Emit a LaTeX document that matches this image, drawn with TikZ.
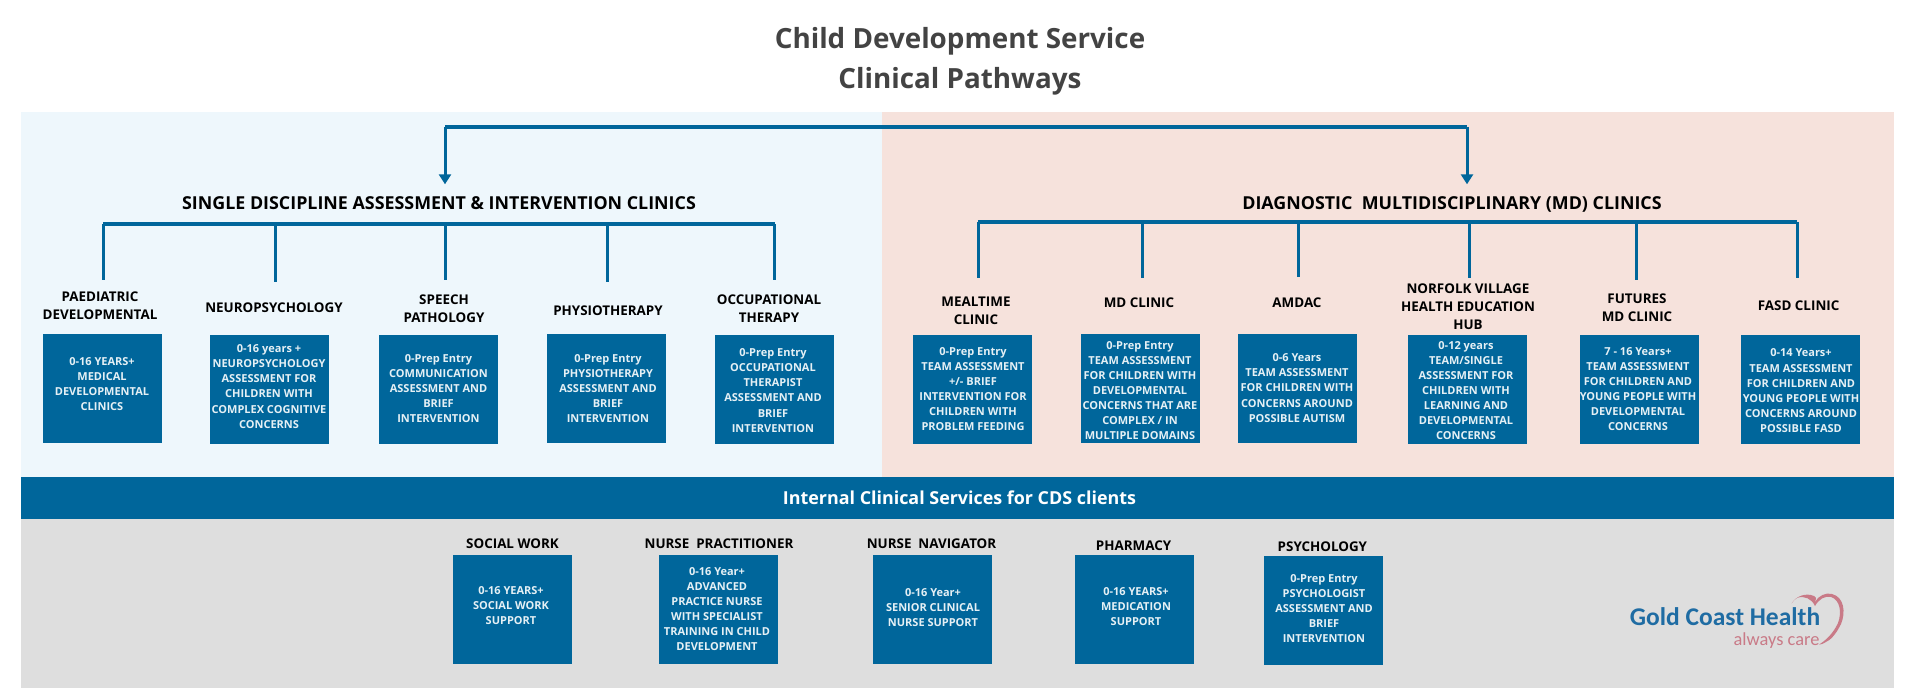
\documentclass[tikz,border=0pt]{standalone}
\usepackage{fontspec}
\setmainfont{Open Sans}
\newfontfamily\logofont{Carlito}
\usetikzlibrary{arrows.meta}
\definecolor{csblue}{HTML}{00669B}
\definecolor{pale}{HTML}{EEF7FC}
\definecolor{pinkp}{HTML}{F6E2DC}
\definecolor{grayp}{HTML}{DEDEDE}
\definecolor{ttl}{HTML}{434343}
\definecolor{logob}{HTML}{1F6CA3}
\definecolor{logop}{HTML}{C97A87}
\tikzset{
 x=1pt,y=-1pt,
 panel/.style={draw=none,inner sep=0,outer sep=0},
 cbox/.style={fill=csblue,draw=none,minimum width=119pt,minimum height=109pt,inner sep=0,outer sep=0},
 btext/.style={text=white!90!csblue,font=\fontsize{11}{15.1}\selectfont\bfseries,align=center,inner sep=0,yshift=-0.5pt},
 lbl/.style={text=black,font=\fontsize{13.4}{18}\selectfont\bfseries,align=center,inner sep=0,yshift=-1pt},
 head/.style={text=black,font=\fontsize{17.85}{22}\selectfont\bfseries,inner sep=0,yshift=-1pt},
 bus/.style={draw=csblue,line width=3.6pt},
 topbus/.style={draw=csblue,line width=3.2pt},
 drop/.style={draw=csblue,line width=3pt},
 arr/.style={draw=csblue,line width=3pt,-{Triangle[length=10pt,width=12pt]}},
}
\newcommand{\clinic}[8]{% name, box x, box y, text x, text y, text, label x/y, label
 \node[cbox] (#1) at (#2,#3) {};
 \node[btext] (#1t) at (#4,#5) {#6};
 \node[lbl] (#1l) at #7 {#8};
}
\begin{document}
\begin{tikzpicture}
\useasboundingbox (0,0) rectangle (1920,698);
\fill[white] (0,0) rectangle (1920,698);
% panels
\fill[pale] (21,112) rectangle (882,477);
\fill[pinkp] (882,112) rectangle (1893.5,477);
\fill[grayp] (21,518) rectangle (1893.5,688);
\node[panel,fill=csblue,minimum width=1872.5pt,minimum height=42pt] (band) at (957.25,497.7) {};
\node[text=white,font=\fontsize{17.9}{21}\selectfont\bfseries,inner sep=0] (bandt) at (959.5,498) {Internal Clinical Services for CDS clients};
% title
\node[text=ttl,font=\fontsize{27.8}{39.5}\selectfont\bfseries,align=center,inner sep=0] (title) at (960,61.5) {Child Development Service\\Clinical Pathways};
% heads
\node[head] (hl) at (439,202) {SINGLE DISCIPLINE ASSESSMENT \& INTERVENTION CLINICS};
\node[head] (hr) at (1452,203) {DIAGNOSTIC\ \ MULTIDISCIPLINARY (MD) CLINICS};
% left clinics
\clinic{a}{102}{388.5}{102}{383.5}{0-16 YEARS+\\MEDICAL\\DEVELOPMENTAL\\CLINICS}{(100,305)}{PAEDIATRIC\\DEVELOPMENTAL}
\clinic{b}{269.5}{389.5}{269}{386}{0-16 years +\\NEUROPSYCHOLOGY\\ASSESSMENT FOR\\CHILDREN WITH\\COMPLEX COGNITIVE\\CONCERNS}{(274,306.7)}{NEUROPSYCHOLOGY}
\clinic{c}{438.5}{389.5}{438.5}{388}{0-Prep Entry\\COMMUNICATION\\ASSESSMENT AND\\BRIEF\\INTERVENTION}{(444,308)}{SPEECH\\PATHOLOGY}
\clinic{d}{606.5}{388.5}{608}{388}{0-Prep Entry\\PHYSIOTHERAPY\\ASSESSMENT AND\\BRIEF\\INTERVENTION}{(608,310)}{PHYSIOTHERAPY}
\clinic{e}{774}{389.5}{773}{390}{0-Prep Entry\\OCCUPATIONAL\\THERAPIST\\ASSESSMENT AND\\BRIEF\\INTERVENTION}{(769,308)}{OCCUPATIONAL\\THERAPY}
% right clinics
\clinic{f}{972.7}{389.5}{973}{388.7}{0-Prep Entry\\TEAM ASSESSMENT\\+/- BRIEF\\INTERVENTION FOR\\CHILDREN WITH\\PROBLEM FEEDING}{(976,309.7)}{MEALTIME\\CLINIC}
\clinic{g}{1140.8}{388.5}{1140}{390}{0-Prep Entry\\TEAM ASSESSMENT\\FOR CHILDREN WITH\\DEVELOPMENTAL\\CONCERNS THAT ARE\\COMPLEX / IN\\MULTIPLE DOMAINS}{(1139,302)}{MD CLINIC}
\clinic{h}{1297.5}{388.5}{1297}{387.5}{0-6 Years\\TEAM ASSESSMENT\\FOR CHILDREN WITH\\CONCERNS AROUND\\POSSIBLE AUTISM}{(1297,302)}{AMDAC}
\clinic{i}{1467.7}{389.5}{1466}{390}{0-12 years\\TEAM/SINGLE\\ASSESSMENT FOR\\CHILDREN WITH\\LEARNING AND\\DEVELOPMENTAL\\CONCERNS}{(1468,306)}{NORFOLK VILLAGE\\HEALTH EDUCATION\\HUB}
\clinic{j}{1639.5}{389.5}{1638}{388.7}{7 - 16 Years+\\TEAM ASSESSMENT\\FOR CHILDREN AND\\YOUNG PEOPLE WITH\\DEVELOPMENTAL\\CONCERNS}{(1637,306.7)}{FUTURES\\MD CLINIC}
\clinic{k}{1800.5}{389.5}{1801}{390.3}{0-14 Years+\\TEAM ASSESSMENT\\FOR CHILDREN AND\\YOUNG PEOPLE WITH\\CONCERNS AROUND\\POSSIBLE FASD}{(1798.6,304.7)}{FASD CLINIC}
% internal services
\clinic{m}{512.5}{609.5}{511}{605}{0-16 YEARS+\\SOCIAL WORK\\SUPPORT}{(512.5,543)}{SOCIAL WORK}
\clinic{n}{718.7}{609.5}{717}{608.5}{0-16 Year+\\ADVANCED\\PRACTICE NURSE\\WITH SPECIALIST\\TRAINING IN CHILD\\DEVELOPMENT}{(719,543)}{NURSE\ \ PRACTITIONER}
\clinic{o}{932.7}{609.5}{933}{607.3}{0-16 Year+\\SENIOR CLINICAL\\NURSE SUPPORT}{(931.5,543)}{NURSE\ \ NAVIGATOR}
\clinic{p}{1134.5}{609.5}{1136}{605.7}{0-16 YEARS+\\MEDICATION\\SUPPORT}{(1133.6,545)}{PHARMACY}
\clinic{q}{1323.3}{610.5}{1324}{608}{0-Prep Entry\\PSYCHOLOGIST\\ASSESSMENT AND\\BRIEF\\INTERVENTION}{(1322.4,545.7)}{PSYCHOLOGY}
% connectors
\coordinate (tl) at (445,127);
\coordinate (tr) at (1467,127);
\coordinate (al) at (445,184.3);
\coordinate (ar) at (1467,184.3);
\draw[arr] (tl) -- (al);
\draw[arr] (tr) -- (ar);
\draw[topbus] (tl) -- (tr);
\coordinate (ls) at (103,224); \coordinate (le) at (775,224);
\coordinate (rs) at (978,222); \coordinate (re) at (1797,222);
\foreach \n/\x/\y in {a/103/280,b/275.5/282,c/445/280,d/607/282,e/774/280}{
 \coordinate (\n u) at (\x,224); \coordinate (\n v) at (\x,\y);
 \draw[drop] (\n u) -- (\n v);}
\foreach \n/\x/\y in {f/978/278,g/1142/278,h/1298.5/277,i/1469.6/278,j/1636/280,k/1797/278}{
 \coordinate (\n u) at (\x,222); \coordinate (\n v) at (\x,\y);
 \draw[drop] (\n u) -- (\n v);}
\draw[bus] (ls) -- (le);
\draw[bus] (rs) -- (re);
% logo
\node[text=logob,font=\logofont\fontsize{25.5}{30}\selectfont\bfseries,inner sep=0] (lg1) at (1725,617) {Gold Coast Health};
\node[text=logop,font=\logofont\fontsize{18.4}{22}\selectfont,inner sep=0] (lg2) at (1776.5,640.5) {always care};
\fill[logop] (1791.7,603.3)
  .. controls (1796,596) and (1806,592.5) .. (1814,596)
  .. controls (1818,598) and (1814.5,601) .. (1815,602)
  .. controls (1818,596) and (1826,592) .. (1832,594)
  .. controls (1844,597) and (1846,612) .. (1841,624)
  .. controls (1836,634) and (1831,640) .. (1825,642.5)
  .. controls (1823,644) and (1821,644.5) .. (1819,644.5)
  .. controls (1825,641) and (1833,634) .. (1838,623)
  .. controls (1842,612) and (1840,600) .. (1831,597)
  .. controls (1825,595.5) and (1819,599) .. (1815,606)
  .. controls (1812,599) and (1804,595) .. (1797,598)
  .. controls (1795,599) and (1793,601) .. cycle;
\end{tikzpicture}
\end{document}
